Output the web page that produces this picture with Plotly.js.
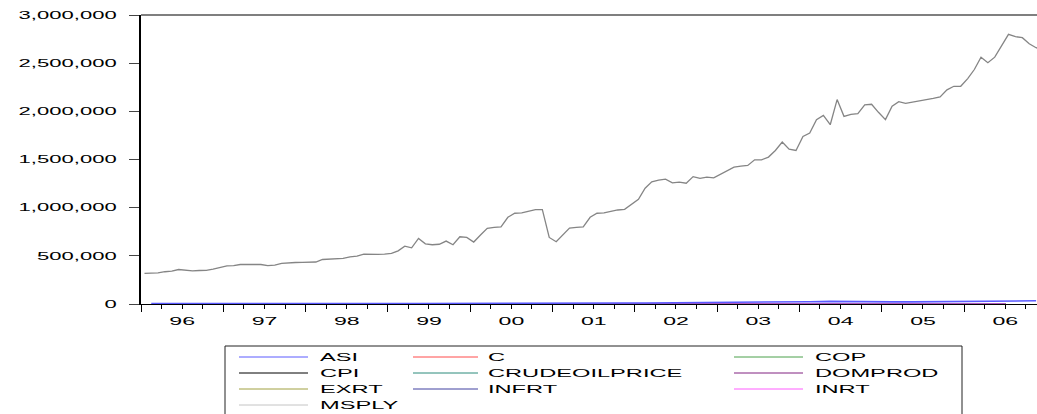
<!DOCTYPE html>
<html><head><meta charset="utf-8">
<script src="https://cdn.plot.ly/plotly-3.0.1.min.js"></script>
<style>body{margin:0;background:#fff}#chart{width:1037px;height:414px}</style>
</head><body><div id="chart"></div>
<script>
// ---------- data ----------
const seriesNames = ['ASI','C','COP','CPI','CRUDEOILPRICE','DOMPROD','EXRT','INFRT','INRT','MSPLY'];
const seriesColors = ['#5a5aff','#ff4a4a','#4aa04a','#000000','#2a8a7a','#802080','#a0a040','#4040a0','#ff5cff','#c4c4c4'];
const plotColorMsply = '#858585';

const years = ['1996','1997','1998','1999','2000','2001','2002','2003','2004','2005','2006'];

// MSPLY, monthly 1996M01 .. 2006M12
const msply = [
 317000,320000,323000,335000,342000,358000,348000,344000,348000,350000,362000,379000,
 396000,398000,410000,410000,411000,410000,398000,404000,421000,428000,431000,433000,
 431000,436000,462000,465000,468000,473000,490000,497000,518000,515000,516000,518000,
 525000,552000,601000,583000,681000,625000,615000,620000,653000,615000,698000,691000,
 643000,716000,785000,796000,800000,900000,942000,945000,958000,979000,979000,691000,
 646000,716000,788000,796000,800000,900000,942000,945000,962000,976000,983000,1035000,
 1087000,1202000,1268000,1285000,1296000,1257000,1266000,1254000,1322000,1304000,1317000,1310000,
 1351000,1385000,1421000,1431000,1438000,1497000,1497000,1525000,1594000,1681000,1608000,1594000,
 1740000,1775000,1914000,1958000,1861000,2122000,1948000,1969000,1976000,2067000,2073000,1990000,
 1914000,2053000,2101000,2083000,2094000,2108000,2118000,2135000,2150000,2223000,2260000,2260000,
 2340000,2434000,2562000,2504000,2562000,2677000,2799000,2775000,2764000,2702000,2660000,2640000
];

// ASI, quarterly 1996Q1 .. 2006Q4
const asiQuarterly = [
 5200,5800,6500,6990, 7500,7300,6800,6440, 6200,5900,5800,5670, 5500,5300,5100,5270,
 5900,6600,7300,8110, 9500,10500,10800,10960, 11000,12400,11800,12140, 13300,14600,15600,20130,
 24000,27700,23500,23840, 21900,22500,24600,24090, 23300,29000,32000,33190
];

// small series, annual 1996 .. 2006 (all sit on the zero line at this scale)
const cSeries      = [1400,1500,1650,1800,2100,2450,2900,3300,3900,4500,5100];
const copSeries    = [2000,2130,2150,2130,2160,2260,2010,2280,2330,2430,2450];
const cpiSeries    = [35,38,42,45,48,57,64,73,84,99,107];
const crudeSeries  = [21,19,13,18,28,24,25,29,38,55,65];
const domprodSeries= [600,650,700,720,800,880,950,1050,1150,1250,1350];
const exrtSeries   = [22,22,22,93,102,112,121,129,133,131,128];
const infrtSeries  = [29,9,10,7,7,19,13,14,15,18,8];
const inrtSeries   = [20,20,21,27,22,24,25,21,19,18,17];

const yTicks = [0,500000,1000000,1500000,2000000,2500000,3000000];

// ---------- x positions (period starts) ----------
const monthDates = [];
years.forEach(y => { for (let m = 1; m <= 12; m++) monthDates.push(y + '-' + String(m).padStart(2,'0') + '-01'); });
const quarterDates = [];
years.forEach(y => { ['01','04','07','10'].forEach(m => quarterDates.push(y + '-' + m + '-01')); });
const yearDates = years.map(y => y + '-01-01');

function tr(name, x, y, color, period, width) {
  return {type:'scatter', mode:'lines', name:name, x:x, y:y,
    xperiod: period, xperiodalignment:'middle',
    line:{color:color, width:width||1}, hoverinfo:'skip'};
}
const ci = n => seriesColors[seriesNames.indexOf(n)];
const traces = [
  tr('C', yearDates, cSeries, ci('C'), 'M12'),
  tr('COP', yearDates, copSeries, ci('COP'), 'M12'),
  tr('CPI', yearDates, cpiSeries, ci('CPI'), 'M12'),
  tr('CRUDEOILPRICE', yearDates, crudeSeries, ci('CRUDEOILPRICE'), 'M12'),
  tr('DOMPROD', yearDates, domprodSeries, ci('DOMPROD'), 'M12'),
  tr('EXRT', yearDates, exrtSeries, ci('EXRT'), 'M12'),
  tr('INFRT', yearDates, infrtSeries, ci('INFRT'), 'M12'),
  tr('INRT', yearDates, inrtSeries, ci('INRT'), 'M12'),
  tr('ASI', quarterDates, asiQuarterly, ci('ASI'), 'M3', 1.6),
  tr('MSPLY', monthDates, msply, plotColorMsply, 'M1', 1.3)
];

// ---------- layout helpers (pixel -> paper) ----------
const PL = 141, PR = 1037, PT = 15, PB = 304;
const px = x => (x - PL) / (PR - PL);
const py = y => (PB - y) / (PB - PT);

const shapes = [
  {type:'line', xref:'paper', yref:'paper', x0:0, x1:1, y0:1, y1:1, line:{color:'#555', width:1.5}},
  {type:'rect', xref:'paper', yref:'paper', x0:px(225), x1:px(962), y0:py(346), y1:py(430), line:{color:'#222', width:1}, fillcolor:'rgba(0,0,0,0)'}
];
const annotations = [];
const colLine = [[239,308],[413,478],[734,803]];
const colText = [320,488,815];
const rowY = [357,373,389,405];
seriesNames.forEach((n, i) => {
  const r = Math.floor(i / 3), c = i % 3;
  shapes.push({type:'line', xref:'paper', yref:'paper', x0:px(colLine[c][0]), x1:px(colLine[c][1]),
    y0:py(rowY[r]), y1:py(rowY[r]), line:{color:seriesColors[i], width:1}});
  annotations.push({xref:'paper', yref:'paper', x:px(colText[c]-2), y:py(rowY[r]), xanchor:'left', yanchor:'middle',
    text:n, showarrow:false, font:{size:10.5, color:'#000'}});
});

const layout = {
  width:1037, height:414,
  margin:{l:PL, r:0, t:PT, b:414-PB, pad:0},
  paper_bgcolor:'#fff', plot_bgcolor:'#fff',
  showlegend:false,
  font:{family:'"Liberation Sans", Arial, sans-serif', size:10.5, color:'#000'},
  xaxis:{type:'date', range:['1996-01-01','2006-11-20'], tick0:'1996-01-01', dtick:'M12',
    tickformat:'%y', ticklabelmode:'period', ticks:'outside', ticklen:7, tickwidth:1, tickcolor:'#000',
    showline:true, linecolor:'#000', linewidth:1, showgrid:false, zeroline:false, layer:'below traces',
    minor:{dtick:'M3', tick0:'1996-01-01', ticks:'outside', ticklen:4, tickcolor:'#000', tickwidth:1, showgrid:false},
    tickfont:{size:10.5}, fixedrange:true},
  yaxis:{range:[0,3000000], tickvals:yTicks, tickformat:',d', ticks:'outside', ticklen:10, tickwidth:1, tickcolor:'#444',
    showline:true, linecolor:'#000', linewidth:2, showgrid:false, zeroline:false, ticklabelstandoff:10,
    tickfont:{size:10.5}, fixedrange:true},
  shapes:shapes, annotations:annotations
};

function stretch(sel, k, anchor) {
  document.querySelectorAll(sel).forEach(t => {
    const b0 = t.getBBox();
    const w = t.getComputedTextLength();
    t.setAttribute('textLength', (w * k).toFixed(2));
    t.setAttribute('lengthAdjust', 'spacingAndGlyphs');
    const b1 = t.getBBox();
    let dx;
    if (anchor === 'end') dx = (b0.x + b0.width) - (b1.x + b1.width);
    else if (anchor === 'start') dx = b0.x - b1.x;
    else dx = (b0.x + b0.width / 2) - (b1.x + b1.width / 2);
    const x = parseFloat(t.getAttribute('x') || 0);
    t.setAttribute('x', x + dx);
  });
}

Plotly.newPlot('chart', traces, layout, {staticPlot:true, displayModeBar:false}).then(() => {
  stretch('.ytick text', 2.1, 'end');
  stretch('.xtick text', 2.2, 'middle');
  stretch('.annotation-text', 2.25, 'start');
});
</script>
</body></html>
